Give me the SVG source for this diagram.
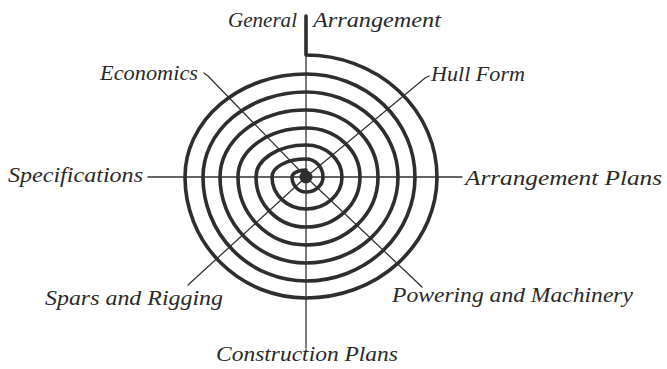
<svg xmlns="http://www.w3.org/2000/svg" width="667" height="369" viewBox="0 0 667 369">
<style>
.spiral{fill:none;stroke:#2e2e2e;stroke-width:3.6;stroke-linejoin:round;stroke-linecap:round}
.spoke{fill:none;stroke:#333;stroke-width:1.3;stroke-linecap:round}
.lbl{font-family:"Liberation Serif","DejaVu Serif",serif;font-style:italic;font-size:21px;fill:#2a2a2a}
</style>
<rect width="667" height="369" fill="#fff"/>
<g id="connectors">
<path class="spoke" d="M306 55 V348"/>
<path class="spoke" d="M148 177 H462"/>
<path class="spoke" d="M204 73 L208 76 L306 177"/>
<path class="spoke" d="M429 76 L425 78 L306 177"/>
<path class="spoke" d="M188 285 L306 177"/>
<path class="spoke" d="M306 177 L422 287"/>
</g>
<g id="spiral">
<path class="spiral" d="M306 16 V55 A131 122 0 0 1 437 177 A131 121 0 0 1 306 298 A121 121 0 0 1 185 177 A121 103 0 0 1 306 74 A109 103 0 0 1 415 177 A109 104 0 0 1 306 281 A103 104 0 0 1 203 177 A103 85 0 0 1 306 92 A92 85 0 0 1 398 177 A92 86 0 0 1 306 263 A86 86 0 0 1 220 177 A86 67 0 0 1 306 110 A72 67 0 0 1 378 177 A72 68 0 0 1 306 245 A68 68 0 0 1 238 177 A68 49 0 0 1 306 128 A54 49 0 0 1 360 177 A54 50 0 0 1 306 227 A50 50 0 0 1 256 177 A50 32 0 0 1 306 145 A36 32 0 0 1 342 177 A36 32 0 0 1 306 209 A34 32 0 0 1 272 177 A34 18 0 0 1 306 159 A17 18 0 0 1 323 177 A17 15 0 0 1 306 192 A14 15 0 0 1 292 177 A14 7 0 0 1 306 170"/>
<circle id="hub" cx="306" cy="177" r="6.5" fill="#2e2e2e"/>
</g>
<g id="general-arrangement"><text class="lbl" x="228" y="27" textLength="69" lengthAdjust="spacingAndGlyphs">General</text><text class="lbl" x="313" y="27" textLength="128" lengthAdjust="spacingAndGlyphs">Arrangement</text></g>
<g id="economics"><text class="lbl" x="100" y="80" textLength="98" lengthAdjust="spacingAndGlyphs">Economics</text></g>
<g id="hull-form"><text class="lbl" x="431" y="81" textLength="94" lengthAdjust="spacingAndGlyphs">Hull Form</text></g>
<g id="specifications"><text class="lbl" x="8" y="182" textLength="135" lengthAdjust="spacingAndGlyphs">Specifications</text></g>
<g id="arrangement-plans"><text class="lbl" x="465" y="185" textLength="197" lengthAdjust="spacingAndGlyphs">Arrangement Plans</text></g>
<g id="spars-and-rigging"><text class="lbl" x="45" y="305" textLength="178" lengthAdjust="spacingAndGlyphs">Spars and Rigging</text></g>
<g id="powering-and-machinery"><text class="lbl" x="392" y="302" textLength="241" lengthAdjust="spacingAndGlyphs">Powering and Machinery</text></g>
<g id="construction-plans"><text class="lbl" x="216" y="361" textLength="182" lengthAdjust="spacingAndGlyphs">Construction Plans</text></g>
</svg>
